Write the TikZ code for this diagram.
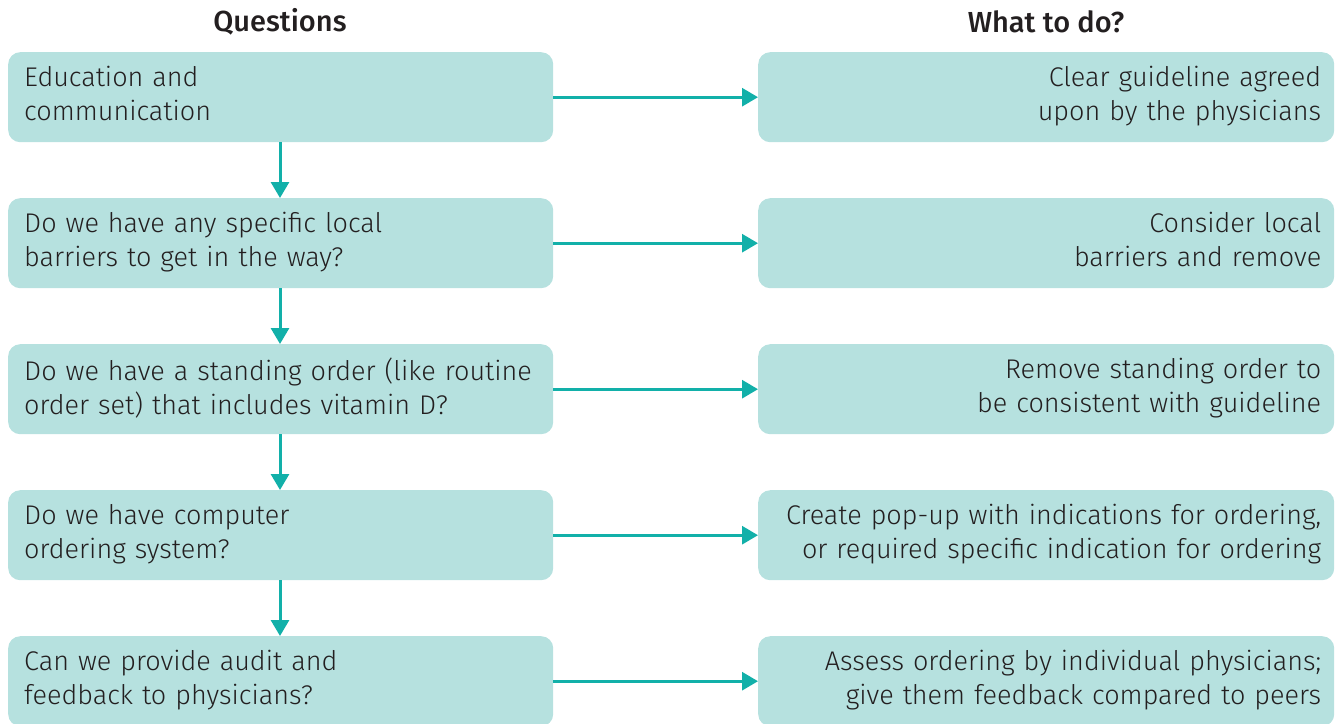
\documentclass[tikz,border=0pt]{standalone}
\usepackage{fontspec}
\usetikzlibrary{arrows.meta}
\setmainfont{Fira Sans}[UprightFont=* Light, BoldFont=* Medium]
\hyphenpenalty=10000
\definecolor{boxfill}{HTML}{B6E1DF}
\definecolor{teal}{HTML}{12B0A9}
\definecolor{txt}{HTML}{231F20}
\begin{document}
\begin{tikzpicture}[x=1pt,y=-1pt,
  qbox/.style={font=\fontsize{27}{34}\selectfont, fill=boxfill, rounded corners=12pt, minimum width=545pt, minimum height=90pt,
    inner xsep=16pt, text width=513pt, align=left, text=txt, text depth=41pt, anchor=north west},
  abox/.style={font=\fontsize{27}{34}\selectfont, fill=boxfill, rounded corners=12pt, minimum width=576pt, minimum height=90pt,
    inner xsep=13pt, text width=550pt, align=right, text=txt, text depth=41pt, anchor=north west},
  head/.style={font=\fontsize{29}{30}\selectfont\bfseries, text=txt},
  arr/.style={draw=teal, line width=3pt, -{Triangle[length=16pt,width=18pt]}}]
\useasboundingbox (0,0) rectangle (1338,723);
\begin{scope}
\clip (0,0) rectangle (1338,723);
\node[head] (hq) at (280,22) {Questions};
\node[head] (ha) at (1046,22) {What to do?};
\node[qbox] (q1) at (8,52) {Education and\\communication};
\node[qbox] (q2) at (8,198) {Do we have any specific local\\barriers to get in the way?};
\node[qbox] (q3) at (8,344) {Do we have a standing order (like routine\\order set) that includes vitamin D?};
\node[qbox] (q4) at (8,490) {Do we have computer\\ordering system?};
\node[qbox] (q5) at (8,636) {Can we provide audit and\\feedback to physicians?};
\node[abox] (a1) at (758,52) {Clear guideline agreed\\upon by the physicians};
\node[abox] (a2) at (758,198) {Consider local\\barriers and remove};
\node[abox] (a3) at (758,344) {Remove standing order to\\be consistent with guideline};
\node[abox] (a4) at (758,490) {Create pop-up with indications for ordering,\\or required specific indication for ordering};
\node[abox] (a5) at (758,636) {Assess ordering by individual physicians;\\give them feedback compared to peers};
\foreach \i in {1,...,5} {\draw[arr] (q\i.east) -- (a\i.west);}
\foreach \i/\j in {1/2,2/3,3/4,4/5} {\draw[arr] (q\i.south -| 280,0) -- (q\j.north -| 280,0);}
\end{scope}
\end{tikzpicture}
\end{document}
